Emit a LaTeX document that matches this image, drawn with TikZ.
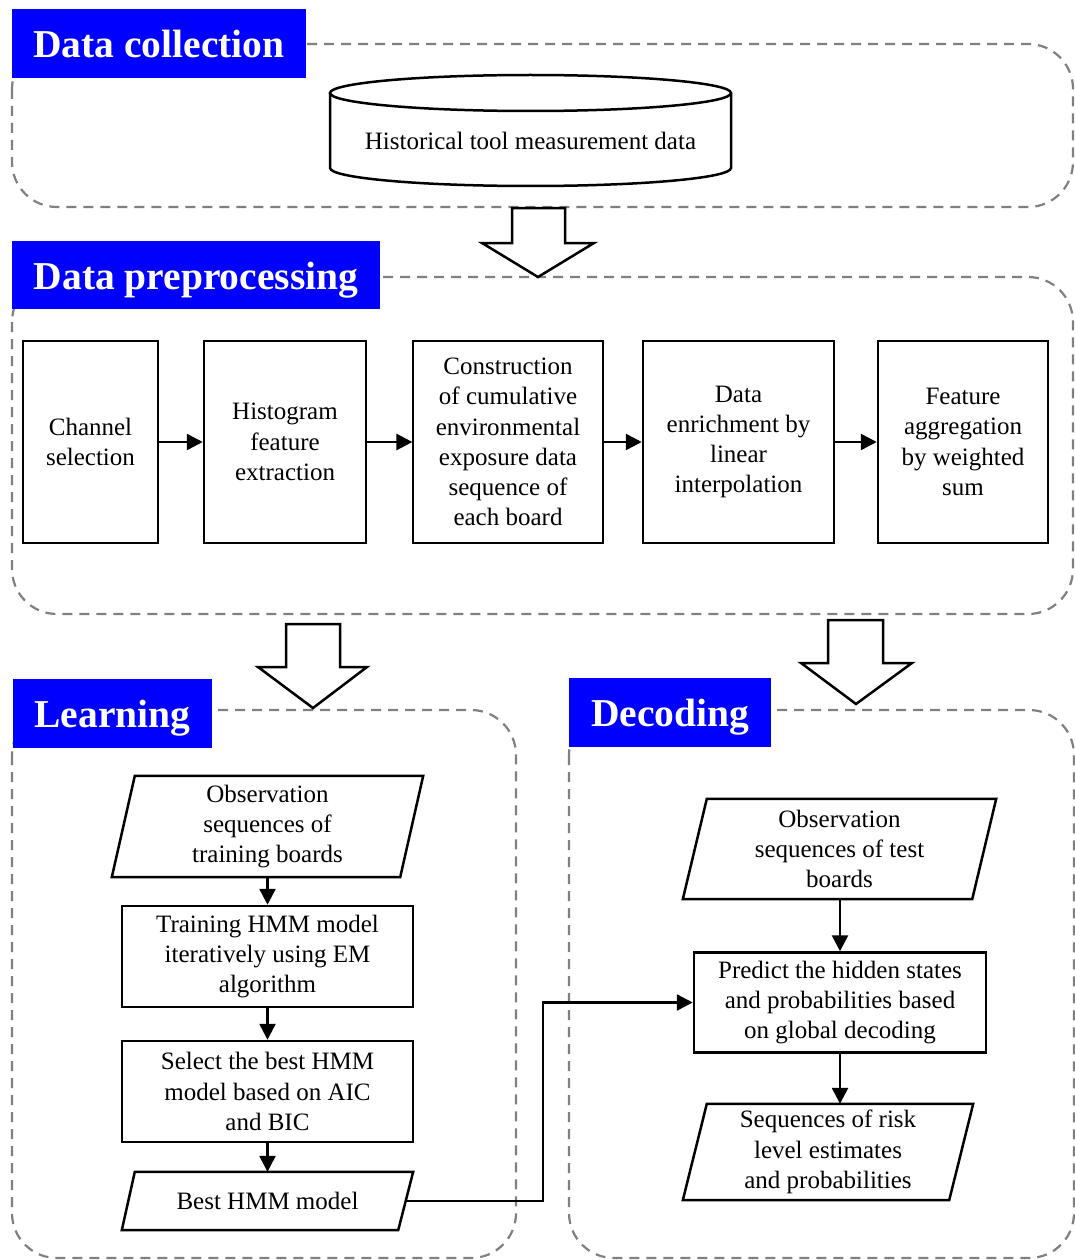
\documentclass[tikz,border=0pt]{standalone}
\usepackage{fontspec}
\setmainfont{Liberation Serif}
\usetikzlibrary{arrows.meta}
\definecolor{dgray}{HTML}{808080}
\definecolor{tblue}{HTML}{0000FF}
\begin{document}
\begin{tikzpicture}[x=1pt,y=-1pt,
  grp/.style={draw=dgray, line width=2.2pt, dash pattern=on 10pt off 7pt, rounded corners=45pt},
  lbl/.style={fill=tblue, text=white, font=\fontsize{39.5}{44}\selectfont\bfseries, inner sep=0pt, text height=28.5pt, text depth=0pt},
  box/.style={draw, line width=2.5pt, align=center, font=\fontsize{25}{30.3}\selectfont, inner sep=0pt},
  txt/.style={align=center, font=\fontsize{25}{30.3}\selectfont, inner sep=0pt},
  pshape/.style={draw, line width=2.5pt, line join=miter},
  arr/.style={line width=2.5pt, -{Triangle[length=16pt,width=16pt]}},
  blk/.style={draw, line width=2.5pt, fill=white, line join=miter}]
\useasboundingbox (0,0) rectangle (1075,1260);
\fill[white] (0,0) rectangle (1075,1260);

% group frames
\draw[grp] (12,44) rectangle (1073,207);
\draw[grp] (12,277) rectangle (1073,614);
\draw[grp] (12,710) rectangle (516,1258);
\draw[grp] (569,710) rectangle (1074,1258);

% labels
\node[lbl, minimum width=294pt, minimum height=69pt] (lcol) at (159,43.5) {Data collection};
\node[lbl, minimum width=368pt, minimum height=68pt] (lpre) at (196,275) {Data preprocessing};
\node[lbl, minimum width=199pt, minimum height=69pt] (llea) at (112.5,713.5) {Learning};
\node[lbl, minimum width=202pt, minimum height=69pt] (ldec) at (670,712.5) {Decoding};

% cylinder
\draw[line width=2.5pt, fill=white] (330,93) -- (330,168) arc[start angle=180, end angle=360, x radius=200.5pt, y radius=18pt] -- (731,93);
\draw[line width=2.5pt] (530.5,93) ellipse [x radius=200.5pt, y radius=18pt];
\node[txt] (hist) at (530.5,141) {Historical tool measurement data};

% block arrows
\draw[blk] (512,208) -- (565,208) -- (565,243) -- (594,243) -- (538,277) -- (482,243) -- (512,243) -- cycle;
\draw[blk] (286,624) -- (340,624) -- (340,667) -- (367,667) -- (313,708) -- (258,667) -- (286,667) -- cycle;
\draw[blk] (828,620) -- (883,620) -- (883,663) -- (912,663) -- (856,704) -- (801,663) -- (828,663) -- cycle;

% preprocessing boxes
\node[box, minimum width=135pt, minimum height=202pt] (p1) at (90.5,442) {Channel\\selection};
\node[box, minimum width=162pt, minimum height=202pt] (p2) at (285,442) {Histogram\\feature\\extraction};
\node[box, line width=1.2pt, minimum width=190pt, minimum height=202pt] (p3) at (508,442) {Construction\\of cumulative\\environmental\\exposure data\\sequence of\\each board};
\node[box, minimum width=191pt, minimum height=202pt] (p4) at (738.5,442) {Data\\enrichment by\\linear\\interpolation};
\node[box, minimum width=170pt, minimum height=202pt] (p5) at (963,442) {Feature\\aggregation\\by weighted\\sum};
\draw[arr] (p1) -- (p2);
\draw[arr] (p2) -- (p3);
\draw[arr] (p3) -- (p4);
\draw[arr] (p4) -- (p5);

% learning
\node[txt, minimum width=311pt, minimum height=101pt] (lobs) at (267.5,826.5) {Observation\\sequences of\\training boards};
\draw[pshape] (lobs.south west) -- ([xshift=23pt]lobs.north west) -- (lobs.north east) -- ([xshift=-23pt]lobs.south east) -- cycle;
\node[box, minimum width=291pt, minimum height=101pt] (ltr) at (267.5,956.5) {Training HMM model\\iteratively using EM\\algorithm};
\node[box, minimum width=291pt, minimum height=101pt] (lsel) at (267.5,1091.5) {Select the best HMM\\model based on AIC\\and BIC};
\node[txt, minimum width=291pt, minimum height=58pt] (lbest) at (267.5,1201) {Best HMM model};
\draw[pshape] (lbest.south west) -- ([xshift=13pt]lbest.north west) -- (lbest.north east) -- ([xshift=-15pt]lbest.south east) -- cycle;
\draw[arr] (lobs) -- (ltr);
\draw[arr] (ltr) -- (lsel);
\draw[arr] (lsel) -- (lbest);

% decoding
\node[txt, minimum width=313pt, minimum height=100pt] (dobs) at (839.5,849) {Observation\\sequences of test\\boards};
\draw[pshape] (dobs.south west) -- ([xshift=24pt]dobs.north west) -- (dobs.north east) -- ([xshift=-24pt]dobs.south east) -- cycle;
\node[box, minimum width=292pt, minimum height=100pt] (dpr) at (840,1002.5) {Predict the hidden states\\and probabilities based\\on global decoding};
\node[txt, minimum width=290pt, minimum height=96pt] (dseq) at (828,1152) {Sequences of risk\\level estimates\\and probabilities};
\draw[pshape] (dseq.south west) -- ([xshift=24pt]dseq.north west) -- (dseq.north east) -- ([xshift=-24pt]dseq.south east) -- cycle;
\draw[arr] (dobs.south -| dpr.north) -- (dpr.north);
\draw[arr] (dpr.south) -- (dseq.north -| dpr.south);

% cross connector
\coordinate (bend) at (543,1201);
\draw[arr] ([xshift=-7pt]lbest.east) -- (bend) |- (dpr.west);
\end{tikzpicture}
\end{document}
